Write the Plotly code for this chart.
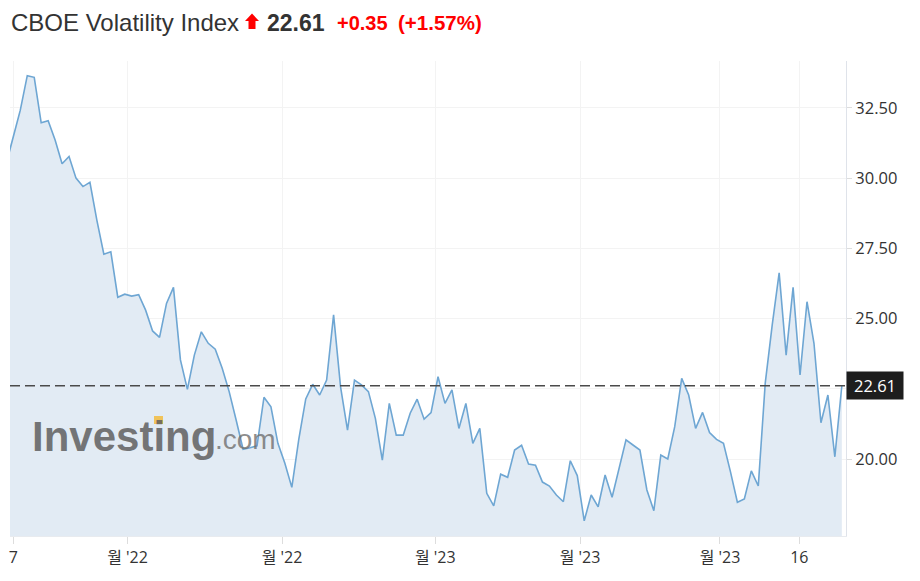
import plotly.graph_objects as go

# ---- data ----
vix_close = [
    30.54, 31.44, 32.42, 33.65, 33.59, 31.97, 32.04, 31.36, 30.51, 30.77,
    30.00, 29.70, 29.85, 28.50, 27.29, 27.38, 25.76, 25.87, 25.80, 25.85,
    25.30, 24.56, 24.33, 25.54, 26.11, 23.53, 22.48, 23.70, 24.53, 24.12,
    23.91, 23.23, 22.40, 21.39, 20.35, 20.40, 20.47, 22.20, 21.86, 20.56,
    19.85, 18.99, 20.70, 22.14, 22.66, 22.28, 22.81, 25.13, 22.57, 21.03,
    22.81, 22.64, 22.40, 21.45, 19.96, 21.98, 20.85, 20.85, 21.63, 22.13,
    21.42, 21.65, 22.93, 21.98, 22.46, 21.09, 21.98, 20.56, 21.09, 18.78,
    18.33, 19.46, 19.35, 20.32, 20.49, 19.82, 19.78, 19.18, 19.04, 18.72,
    18.48, 19.94, 19.41, 17.80, 18.72, 18.30, 19.43, 18.64, 19.61, 20.68,
    20.50, 20.32, 18.90, 18.16, 20.14, 20.00, 21.15, 22.87, 22.28, 21.09,
    21.66, 20.94, 20.70, 20.56, 19.55, 18.46, 18.58, 19.58, 19.04, 22.70,
    24.77, 26.63, 23.70, 26.11, 22.99, 25.60, 24.12, 21.29, 22.28, 20.08,
    22.61,
]
session_index = list(range(len(vix_close)))

x_tick_positions = [1, 17.4, 39.6, 61.6, 82.4, 102.5, 113.9]
x_tick_labels = ["7", "월 '22", "월 '22", "월 '23", "월 '23", "월 '23", "16"]

y_tick_values = [20.0, 22.5, 25.0, 27.5, 30.0, 32.5]
y_tick_labels = ["20.00", "", "25.00", "27.50", "30.00", "32.50"]

last_price = 22.61
title_name = "CBOE Volatility Index"
price_text = "22.61"
change_text = "+0.35"
change_pct_text = "(+1.57%)"

# ---- layout geometry (page has an 8px body margin) ----
OFF = 8
W, H = 920 - OFF, 581 - OFF
# plot area in window pixels: x 10..846, y 61..536
ML = 10 - OFF
MR = 920 - 846
MT = 61 - OFF
MB = 581 - 536
PW, PH = W - ML - MR, H - MT - MB


def px(xw):
    """window pixel x -> paper x"""
    return (xw - OFF - ML) / PW


def py(yw):
    """window pixel y -> paper y"""
    return (H - MB - (yw - OFF)) / PH


LINE = "rgb(110,166,211)"
FILL = "rgba(226,235,244,1)"
TXT = "#333333"
RED = "#ff0000"
FONT = "Liberation Sans, Arial, Noto Sans CJK KR, sans-serif"
AXFONT = "Open Sans, Noto Sans, Noto Sans CJK KR, sans-serif"

fig = go.Figure()
fig.add_trace(go.Scatter(
    x=session_index, y=vix_close, mode="lines",
    line=dict(color=LINE, width=1.6),
    fill="tozeroy", fillcolor=FILL,
    hoverinfo="skip", showlegend=False,
))

fig.update_layout(
    width=W, height=H,
    margin=dict(l=ML, r=MR, t=MT, b=MB, pad=0),
    paper_bgcolor="white", plot_bgcolor="white",
    showlegend=False,
    xaxis=dict(
        range=[0.52, 120.6],
        tickmode="array", tickvals=x_tick_positions, ticktext=x_tick_labels,
        showgrid=True, gridcolor="#f3f3f3", gridwidth=1,
        ticks="outside", ticklen=7, tickcolor="#dddddd",
        showline=True, linecolor="#e8ebef", linewidth=1,
        tickfont=dict(family=AXFONT, size=16, color=TXT),
        zeroline=False, fixedrange=True,
    ),
    yaxis=dict(
        side="right",
        range=[17.26, 34.17],
        tickmode="array", tickvals=y_tick_values, ticktext=y_tick_labels,
        showgrid=True, gridcolor="#f3f3f3", gridwidth=1,
        ticks="outside", ticklen=5, tickcolor="#dddddd",
        showline=True, linecolor="#dfe3ea", linewidth=1,
        tickfont=dict(family=AXFONT, size=16.5, color=TXT),
        zeroline=False, fixedrange=True,
    ),
)

# dashed last-price line
fig.add_shape(type="line", xref="paper", yref="y", x0=0, x1=1,
              y0=last_price, y1=last_price,
              line=dict(color="#4a4a4a", width=1.5, dash="10px,5px"),
              layer="above")

# last price box
fig.add_annotation(xref="paper", yref="y", x=1, y=last_price,
                   xanchor="left", yanchor="middle", xshift=0,
                   text=f"{last_price:.2f}", showarrow=False,
                   bgcolor="#1e1e1e", width=56, height=27, borderpad=0,
                   font=dict(family=AXFONT, size=16.5, color="white"))

# title pieces
fig.add_annotation(xref="paper", yref="paper", x=px(9), y=py(23),
                   xanchor="left", yanchor="middle", showarrow=False,
                   text=title_name,
                   font=dict(family=FONT, size=24, color=TXT))
fig.add_annotation(xref="paper", yref="paper", x=px(265), y=py(23),
                   xanchor="left", yanchor="middle", showarrow=False,
                   text=f"<b>{price_text}</b>",
                   font=dict(family=FONT, size=23, color=TXT))
fig.add_annotation(xref="paper", yref="paper", x=px(335), y=py(23),
                   xanchor="left", yanchor="middle", showarrow=False,
                   text=f"<b>{change_text}</b>",
                   font=dict(family=FONT, size=20, color=RED))
fig.add_annotation(xref="paper", yref="paper", x=px(396), y=py(23),
                   xanchor="left", yanchor="middle", showarrow=False,
                   text=f"<b>{change_pct_text}</b>",
                   font=dict(family=FONT, size=20.5, color=RED))

# red up arrow icon
ax = [245, 252, 259, 255.5, 255.5, 248.5, 248.5]
ay = [21, 13.5, 21, 21, 29, 29, 21]
path = "M " + " L ".join(f"{px(a)},{py(b)}" for a, b in zip(ax, ay)) + " Z"
fig.add_shape(type="path", xref="paper", yref="paper", path=path,
              fillcolor=RED, line=dict(width=0))

# watermark
fig.add_annotation(xref="paper", yref="paper", x=px(30), y=py(436),
                   xanchor="left", yanchor="middle", showarrow=False,
                   text="<b>Investing</b>",
                   font=dict(family=FONT, size=42, color="rgba(95,95,95,0.85)"))
fig.add_annotation(xref="paper", yref="paper", x=px(213), y=py(439),
                   xanchor="left", yanchor="middle", showarrow=False,
                   text=".com",
                   font=dict(family=FONT, size=28, color="rgba(110,110,110,0.8)"))
# yellow accent over the i of "ting"
fig.add_shape(type="rect", xref="paper", yref="paper",
              x0=px(154), x1=px(163), y0=py(424), y1=py(416),
              fillcolor="rgb(240,195,90)", line=dict(width=0))

fig.write_html("out.html")
